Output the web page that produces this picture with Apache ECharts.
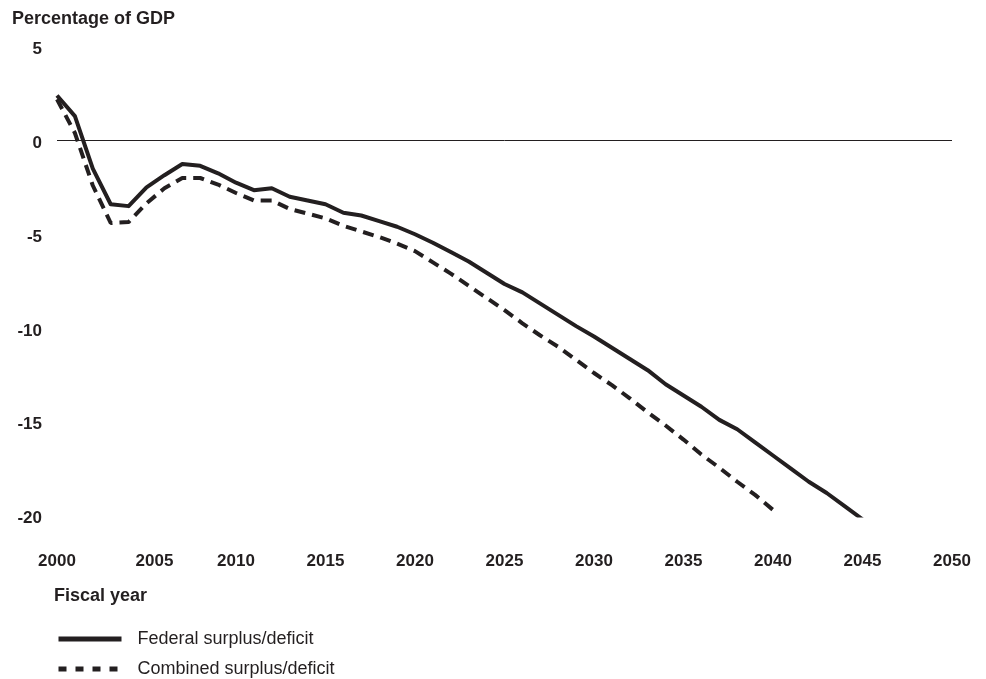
<!DOCTYPE html>
<html>
<head>
<meta charset="utf-8">
<script src="https://cdn.jsdelivr.net/npm/echarts@6/dist/echarts.min.js"></script>
<style>html,body{margin:0;padding:0;background:#fff;}#chart{width:986px;height:679px;}</style>
</head>
<body>
<div id="chart"></div>
<script>
var federalYears = [2000,2001,2002,2003,2004,2005,2006,2007,2008,2009,2010,2011,2012,2013,2014,2015,2016,2017,2018,2019,2020,2021,2022,2023,2024,2025,2026,2027,2028,2029,2030,2031,2032,2033,2034,2035,2036,2037,2038,2039,2040,2041,2042,2043,2044,2045];
var federalValues = [2.4,1.3,-1.5,-3.4,-3.5,-2.5,-1.85,-1.25,-1.35,-1.75,-2.25,-2.65,-2.55,-3.0,-3.2,-3.4,-3.85,-4.0,-4.3,-4.6,-5.0,-5.45,-5.95,-6.45,-7.05,-7.65,-8.1,-8.7,-9.3,-9.9,-10.45,-11.05,-11.65,-12.25,-13.0,-13.6,-14.2,-14.9,-15.4,-16.1,-16.8,-17.5,-18.2,-18.8,-19.5,-20.2];
var combinedYears = [2000,2001,2002,2003,2004,2005,2006,2007,2008,2009,2010,2011,2012,2013,2014,2015,2016,2017,2018,2019,2020,2021,2022,2023,2024,2025,2026,2027,2028,2029,2030,2031,2032,2033,2034,2035,2036,2037,2038,2039,2040];
var combinedValues = [2.2,0.4,-2.4,-4.4,-4.35,-3.35,-2.55,-2.0,-2.0,-2.35,-2.8,-3.2,-3.2,-3.65,-3.9,-4.15,-4.55,-4.85,-5.15,-5.5,-5.9,-6.5,-7.1,-7.75,-8.4,-9.05,-9.75,-10.4,-11.0,-11.7,-12.4,-13.05,-13.75,-14.5,-15.2,-15.95,-16.75,-17.45,-18.2,-18.9,-19.7];
var xTicks = [2000,2005,2010,2015,2020,2025,2030,2035,2040,2045,2050];
var yTicks = [5,0,-5,-10,-15,-20];
var seriesNames = ['Federal surplus/deficit','Combined surplus/deficit'];

function pairs(xs, ys){ return xs.map(function(x,i){ return [x, ys[i]]; }); }

var ink = '#231f20';
var font = 'Liberation Sans, Arial, sans-serif';
var chart = echarts.init(document.getElementById('chart'));
chart.setOption({
  animation: false,
  backgroundColor: '#fff',
  title: [
    {text: 'Percentage of GDP', left: 7, top: 5, textStyle: {fontFamily: font, fontWeight: 'bold', fontSize: 18, color: ink}},
    {text: 'Fiscal year', left: 49, top: 582, textStyle: {fontFamily: font, fontWeight: 'bold', fontSize: 18, color: ink}}
  ],
  grid: {left: 57, right: 34, top: 46.75, bottom: 163.5, containLabel: false},
  legend: {
    orient: 'vertical', left: 56, top: 630, padding: 0, itemWidth: 63, itemHeight: 18, itemGap: 12,
    textStyle: {fontFamily: font, fontSize: 18, color: ink, padding: [0,0,0,11]},
    data: [
      {name: seriesNames[0], lineStyle: {width: 5, type: 'solid', color: ink}, itemStyle: {opacity: 0}},
      {name: seriesNames[1], lineStyle: {width: 5, type: [8, 9], color: ink}, itemStyle: {opacity: 0}}
    ]
  },
  xAxis: {
    type: 'value', min: xTicks[0], max: xTicks[xTicks.length-1], interval: 5,
    axisLine: {show: false}, axisTick: {show: false}, splitLine: {show: false},
    axisLabel: {
      margin: 37, color: ink, fontFamily: font, fontWeight: 'bold', fontSize: 17,
      formatter: function(v){ return v === 2005 ? '{s|' + v + '}' : String(v); },
      rich: {s: {padding: [0,0,0,16], fontFamily: font, fontWeight: 'bold', fontSize: 17, color: ink}}
    }
  },
  yAxis: {
    type: 'value', min: yTicks[yTicks.length-1], max: yTicks[0], interval: 5,
    axisLine: {show: false}, axisTick: {show: false}, splitLine: {show: false},
    axisLabel: {
      margin: 15, color: ink, fontFamily: font, fontWeight: 'bold', fontSize: 17,
      formatter: function(v){ return '{a|' + v + '}'; },
      rich: {a: {padding: [6,0,0,0], fontFamily: font, fontWeight: 'bold', fontSize: 17, color: ink}}
    }
  },
  series: [
    {
      name: seriesNames[0], type: 'line', data: pairs(federalYears, federalValues),
      symbol: 'none', lineStyle: {width: 4, color: ink, type: 'solid', join: 'round'}, itemStyle: {color: ink},
      markLine: {silent: true, symbol: 'none', label: {show: false}, lineStyle: {color: ink, width: 1, type: 'solid'}, data: [{yAxis: 0}]},
      z: 3
    },
    {
      name: seriesNames[1], type: 'line', data: pairs(combinedYears, combinedValues),
      symbol: 'none', lineStyle: {width: 4, color: ink, type: [11, 7]}, itemStyle: {color: ink},
      z: 2
    }
  ]
});
</script>
</body>
</html>
